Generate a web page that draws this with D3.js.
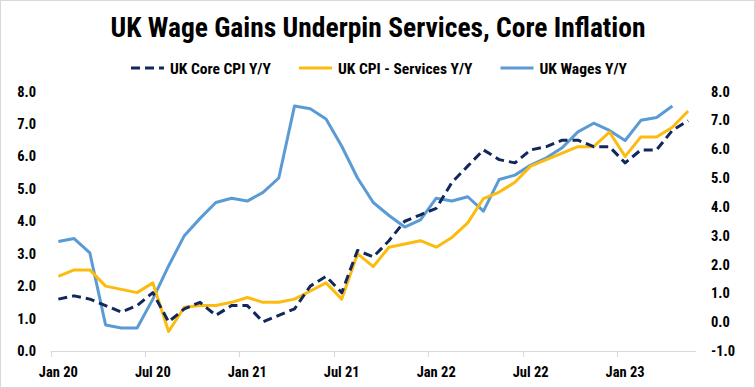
<!DOCTYPE html>
<html>
<head>
<meta charset="utf-8">
<script src="https://cdn.jsdelivr.net/npm/d3@7"></script>
<style>
  html, body { margin: 0; padding: 0; background: #fff; }
  svg text { font-family: "Liberation Sans Narrow", "Arial Narrow", "Roboto Condensed", Roboto, sans-serif; font-weight: bold; fill: #000; }
</style>
<title>UK Wage Gains Underpin Services, Core Inflation</title>
</head>
<body>
<script>
// months Jan 20 .. May 23
var months = [
  "Jan 20","Feb 20","Mar 20","Apr 20","May 20","Jun 20","Jul 20","Aug 20","Sep 20","Oct 20","Nov 20","Dec 20",
  "Jan 21","Feb 21","Mar 21","Apr 21","May 21","Jun 21","Jul 21","Aug 21","Sep 21","Oct 21","Nov 21","Dec 21",
  "Jan 22","Feb 22","Mar 22","Apr 22","May 22","Jun 22","Jul 22","Aug 22","Sep 22","Oct 22","Nov 22","Dec 22",
  "Jan 23","Feb 23","Mar 23","Apr 23","May 23"
];
var coreCpi = [
  1.6,1.7,1.6,1.4,1.2,1.4,1.8,0.9,1.3,1.5,1.1,1.4,
  1.4,0.9,1.1,1.3,2.0,2.3,1.8,3.1,2.9,3.4,4.0,4.2,
  4.4,5.2,5.7,6.2,5.9,5.8,6.2,6.3,6.5,6.5,6.3,6.3,
  5.8,6.2,6.2,6.8,7.1
];
var servicesCpi = [
  2.3,2.5,2.5,2.0,1.9,1.8,2.1,0.6,1.35,1.4,1.4,1.5,
  1.65,1.5,1.5,1.6,1.85,2.1,1.6,3.0,2.6,3.2,3.3,3.4,
  3.2,3.5,3.95,4.7,4.9,5.2,5.7,5.9,6.1,6.3,6.3,6.75,
  6.0,6.6,6.6,6.9,7.4
];
// wages plotted on right axis, ends Apr 23
var wages = [
  2.8,2.9,2.4,-0.1,-0.2,-0.2,0.8,1.95,3.0,3.6,4.15,4.3,
  4.2,4.5,5.0,7.5,7.4,7.05,6.1,5.0,4.15,3.7,3.3,3.55,
  4.3,4.2,4.35,3.85,4.95,5.1,5.45,5.7,6.05,6.6,6.9,6.65,
  6.3,7.0,7.1,7.5
];
var leftTicks = [0,1,2,3,4,5,6,7,8];
var rightTicks = [-1,0,1,2,3,4,5,6,7,8];
var xLabels = ["Jan 20","Jul 20","Jan 21","Jul 21","Jan 22","Jul 22","Jan 23"];

var W = 755, H = 388;
var svg = d3.select("body").append("svg").attr("width", W).attr("height", H);

svg.append("rect").attr("x", 0.5).attr("y", 0.5).attr("width", W - 1).attr("height", H - 1)
  .attr("fill", "#fff").attr("stroke", "#d9d9d9");

var x = d3.scaleBand().domain(months).range([50.5, 696]).padding(0);
var yL = d3.scaleLinear().domain([0, 8]).range([351, 91.5]);
var yR = d3.scaleLinear().domain([-1, 8]).range([351, 91.5]);
var cx = function(m){ return x(m) + x.bandwidth() / 2; };

// title
svg.append("text").attr("x", 378).attr("y", 37).attr("text-anchor", "middle")
  .style("font-size", "27.5px").text("UK Wage Gains Underpin Services, Core Inflation");

// category axis
svg.append("line").attr("x1", 50.5).attr("x2", 696).attr("y1", 351.5).attr("y2", 351.5)
  .attr("stroke", "#d9d9d9").attr("stroke-width", 1);
months.forEach(function(m, i){
  if (i % 6 === 0) {
    svg.append("line").attr("x1", Math.round(x(m)) + 0.5).attr("x2", Math.round(x(m)) + 0.5)
      .attr("y1", 351).attr("y2", 357).attr("stroke", "#d9d9d9");
  }
});
svg.selectAll(".xl").data(xLabels).enter().append("text")
  .attr("x", function(d){ return cx(d); }).attr("y", 377)
  .attr("text-anchor", "middle").style("font-size", "14.5px").text(function(d){ return d; });

// value axes
svg.selectAll(".yl").data(leftTicks).enter().append("text")
  .attr("x", 36).attr("y", function(d){ return yL(d) + 5; })
  .attr("text-anchor", "end").style("font-size", "14.5px").text(function(d){ return d.toFixed(1); });
svg.selectAll(".yr").data(rightTicks).enter().append("text")
  .attr("x", 711).attr("y", function(d){ return yR(d) + 5; })
  .attr("text-anchor", "start").style("font-size", "14.5px").text(function(d){ return d.toFixed(1); });

var lineL = d3.line().x(function(d, i){ return cx(months[i]); }).y(function(d){ return yL(d); });
var lineR = d3.line().x(function(d, i){ return cx(months[i]); }).y(function(d){ return yR(d); });

var series = [
  { name: "UK Core CPI Y/Y", data: coreCpi, line: lineL, color: "#12275c", dash: "9,5" },
  { name: "UK CPI - Services Y/Y", data: servicesCpi, line: lineL, color: "#fbbc0f", dash: null },
  { name: "UK Wages Y/Y", data: wages, line: lineR, color: "#5b9bd5", dash: null }
];

// draw wages first, then services, core on top
[series[2], series[1], series[0]].forEach(function(s){
  svg.append("path").datum(s.data).attr("d", s.line)
    .attr("fill", "none").attr("stroke", s.color).attr("stroke-width", 3)
    .attr("stroke-linejoin", "round")
    .attr("stroke-dasharray", s.dash);
});

// legend
var lg = svg.append("g");
var lx = 0;
series.forEach(function(s, i){
  lg.append("line").attr("x1", lx).attr("x2", lx + 33).attr("y1", 0).attr("y2", 0)
    .attr("stroke", s.color).attr("stroke-width", 3).attr("stroke-dasharray", s.dash);
  var t = lg.append("text").attr("x", lx + 39).attr("y", 5.5).style("font-size", "15.5px").text(s.name);
  lx += 39 + t.node().getComputedTextLength() + 28;
});
var lw = lx - 28;
lg.attr("transform", "translate(" + (379 - lw / 2) + ",68)");
</script>
</body>
</html>
